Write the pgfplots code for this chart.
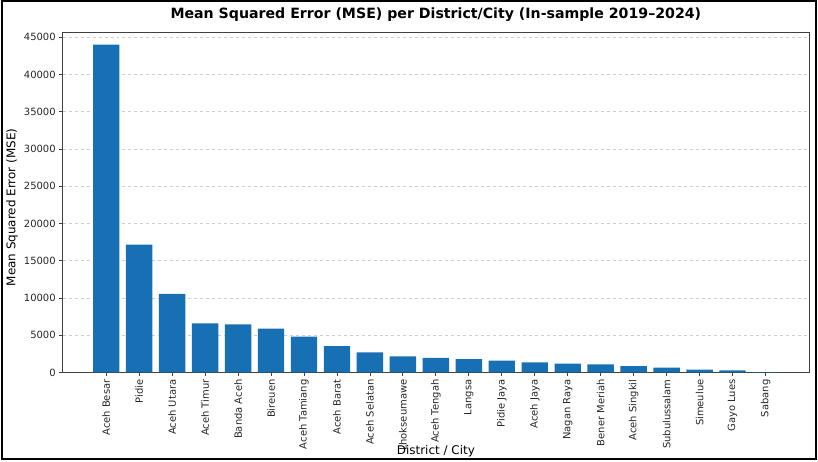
\documentclass[border=0pt]{standalone}
\usepackage{fontspec}
\setmainfont{DejaVu Sans}
\usepackage{pgfplots}
\pgfplotsset{compat=1.18}
\definecolor{barblue}{RGB}{24,112,180}
\definecolor{gridgray}{RGB}{205,205,205}
\begin{document}
\begin{tikzpicture}[x=1bp,y=1bp]
\useasboundingbox (0,0) rectangle (818,462);
\draw[line width=2bp, black] (2,2.5) rectangle (816,460.5);
\begin{axis}[
  at={(62.7bp,89.5bp)}, anchor=south west,
  scale only axis,
  width=746.3bp, height=340.5bp,
  xmin=-1.32, xmax=21.32,
  ymin=0, ymax=45700,
  xtick={0,...,20},
  xticklabels={Aceh Besar,Pidie,Aceh Utara,Aceh Timur,Banda Aceh,Bireuen,Aceh Tamiang,Aceh Barat,Aceh Selatan,Lhokseumawe,Aceh Tengah,Langsa,Pidie Jaya,Aceh Jaya,Nagan Raya,Bener Meriah,Aceh Singkil,Subulussalam,Simeulue,Gayo Lues,Sabang},
  ytick={0,5000,...,45000},
  scaled y ticks=false,
  /pgf/number format/.cd, 1000 sep={}, assume math mode=true,
  /pgfplots/.cd,
  tick align=outside,
  xtick pos=bottom, ytick pos=left,
  major tick length=3.5bp,
  tick style={black!75, line width=0.8bp},
  axis line style={black!75, line width=0.8bp},
  ymajorgrids,
  grid style={gridgray, dashed, line width=0.7bp},
  ticklabel style={font=\fontsize{10}{12}\selectfont, text=black!85},
  xticklabel style={rotate=90, anchor=east},
  title={\bfseries Mean Squared Error (MSE) per District/City (In-sample 2019–2024)},
  title style={at={(axis description cs:0.5,1)}, anchor=base, yshift=7.5bp, font=\fontsize{14.2}{17}\selectfont},
  xlabel={District / City},
  xlabel style={at={(axis description cs:0.5,-0.2416)}, anchor=base, font=\fontsize{12}{14}\selectfont},
  ylabel={Mean Squared Error (MSE)},
  ylabel style={at={(axis description cs:-0.068,0.485)}, anchor=center, font=\fontsize{12}{14}\selectfont},
]
\addplot[ybar, bar width=0.8, fill=barblue, draw=none, bar shift=0pt] coordinates {
(0,44000) (1,17150) (2,10550) (3,6600) (4,6450) (5,5900) (6,4800) (7,3550) (8,2700) (9,2150)
(10,1950) (11,1800) (12,1600) (13,1350) (14,1200) (15,1100) (16,850) (17,650) (18,380) (19,280) (20,50)
};
\end{axis}
\end{tikzpicture}
\end{document}
